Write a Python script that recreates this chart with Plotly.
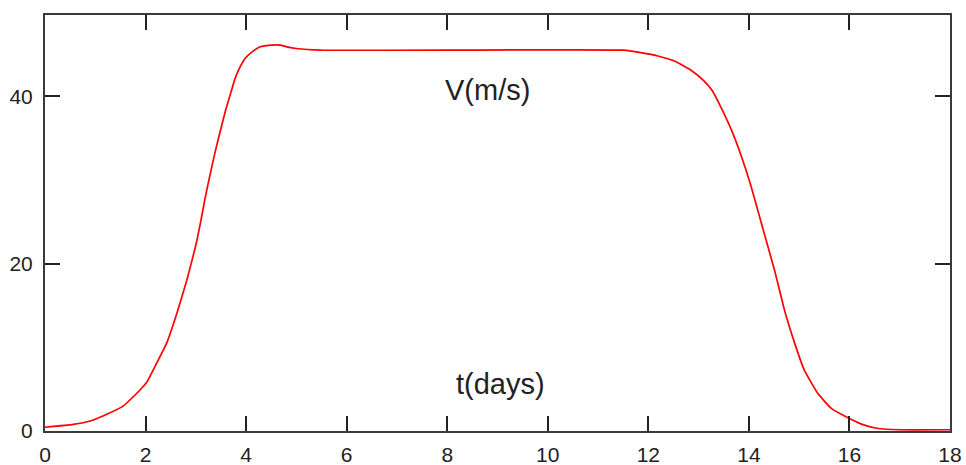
import plotly.graph_objects as go

# time (days) and speed V (m/s)
t_days = [0.0, 0.56, 0.9, 1.23, 1.56, 1.89, 2.03, 2.22, 2.42, 2.62, 2.82, 3.0, 3.09,
          3.19, 3.29, 3.39, 3.49, 3.59, 3.69, 3.78, 3.88, 3.98, 4.12, 4.28, 4.52,
          4.68, 4.81, 5.0, 5.5, 8.0, 11.5, 11.85, 12.19, 12.52, 12.85, 13.11, 13.28,
          13.45, 13.65, 13.84, 14.04, 14.24, 14.51, 14.71, 14.91, 15.1, 15.37,
          15.64, 16.0, 16.3, 16.57, 17.0, 18.0]
v_ms = [0.45, 0.8, 1.2, 2.0, 3.0, 4.9, 5.9, 8.1, 10.5, 14.0, 18.0, 22.2, 24.8,
        28.0, 30.8, 33.5, 35.9, 38.3, 40.3, 42.1, 43.5, 44.5, 45.3, 45.9, 46.1,
        46.1, 45.9, 45.7, 45.5, 45.5, 45.5, 45.2, 44.8, 44.2, 43.1, 41.8, 40.6,
        38.6, 36.0, 33.0, 29.3, 25.0, 19.2, 14.4, 10.5, 7.3, 4.5,
        2.7, 1.5, 0.7, 0.3, 0.15, 0.15]

x_ticks = [0, 2, 4, 6, 8, 10, 12, 14, 16, 18]
y_ticks = [0, 20, 40]

fig = go.Figure()
fig.add_trace(go.Scatter(x=t_days, y=v_ms, mode="lines",
                         line=dict(color="#ff0000", width=1.7, shape="spline", smoothing=0.4),
                         hoverinfo="skip", showlegend=False))

tick_font = dict(family="Liberation Sans, Arial", size=21, color="#222222")
axis_common = dict(showgrid=False, zeroline=False, showline=True, linecolor="#3a3a3a",
                   linewidth=2, mirror="ticks", ticks="inside", ticklen=15, tickwidth=2,
                   tickcolor="#222222", tickfont=tick_font, automargin=False)

fig.update_xaxes(range=[0, 18], tickvals=x_ticks, ticktext=[str(v) for v in x_ticks],
                 ticklabelstandoff=4, **axis_common)
fig.update_yaxes(range=[0, 49.7], tickvals=y_ticks, ticktext=[str(v) for v in y_ticks],
                 ticklabelstandoff=6, **axis_common)

ann_font = dict(family="Liberation Sans, Arial", size=29, color="#222222")
fig.add_annotation(x=8.81, y=40.7, xref="x", yref="y", text="V(m/s)", showarrow=False,
                   font=ann_font, xanchor="center", yanchor="middle")
fig.add_annotation(x=9.06, y=5.6, xref="x", yref="y", text="t(days)", showarrow=False,
                   font=ann_font, xanchor="center", yanchor="middle")

fig.update_layout(width=966, height=465, margin=dict(l=45, r=16, t=15, b=34),
                  plot_bgcolor="white", paper_bgcolor="white")

# remove the default page margin so the 966x465 figure fills the window exactly
fig.write_html("out.html", config={"displayModeBar": False},
               post_script="document.body.style.margin='0';document.body.style.overflow='hidden';")
